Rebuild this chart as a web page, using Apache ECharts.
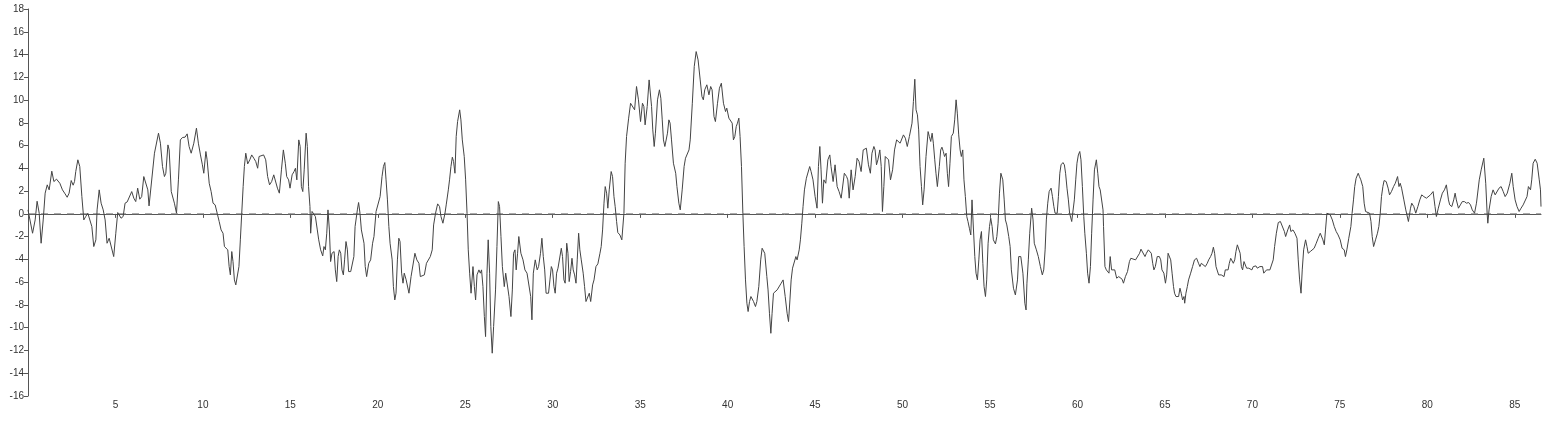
<!DOCTYPE html>
<html>
<head>
<meta charset="utf-8">
<script src="https://cdn.jsdelivr.net/npm/echarts@6/dist/echarts.min.js"></script>
<style>html,body{margin:0;padding:0;background:#fff}#c{width:1547px;height:423px}</style>
</head>
<body>
<div id="c"></div>
<script>
const xs = [0,0.10,0.26,0.41,0.52,0.64,0.75,0.87,0.98,1.10,1.21,1.36,1.48,1.63,1.82,1.97,2.12,2.24,2.35,2.47,2.58,2.66,2.73,2.85,2.96,3.08,3.19,3.30,3.42,3.53,3.65,3.76,3.88,3.95,4.07,4.18,4.30,4.41,4.52,4.64,4.75,4.90,5.02,5.13,5.21,5.32,5.44,5.55,5.67,5.78,5.93,6.05,6.16,6.27,6.39,6.50,6.62,6.73,6.85,6.92,
7.0,7.23,7.46,7.57,7.69,7.80,7.88,8.0,8.07,8.19,8.26,8.37,8.49,8.60,8.71,8.83,8.98,9.10,9.21,9.33,9.48,9.63,9.74,9.86,9.97,10.05,10.17,10.24,10.36,10.47,10.58,10.70,10.81,10.93,11.04,11.15,11.23,11.34,11.42,11.50,11.57,11.65,11.72,11.80,11.88,11.99,12.06,12.14,12.22,12.30,12.37,12.45,12.56,12.68,12.79,12.91,13.02,13.13,13.21,13.32,13.47,13.59,13.70,13.81,13.93,14.05,
14.26,14.37,14.49,14.60,14.71,14.79,14.90,14.98,15.10,15.21,15.29,15.37,15.48,15.56,15.63,15.71,15.79,15.90,15.97,16.04,16.12,16.16,16.24,16.35,16.43,16.54,16.62,16.73,16.85,16.92,17.0,17.08,17.15,17.23,17.30,17.38,17.50,17.57,17.65,17.73,17.80,17.88,17.95,18.03,18.10,18.18,18.26,18.33,18.45,18.55,18.63,18.70,18.83,18.90,18.98,19.06,19.13,19.21,19.28,19.36,19.48,19.59,19.70,19.78,19.90,20.01,20.13,20.24,20.32,20.40,20.47,20.55,20.63,20.70,20.82,20.89,20.97,21.04,21.12,21.20,21.27,
21.36,21.44,21.51,21.62,21.78,21.90,22.01,22.12,22.23,22.35,22.43,22.54,22.66,22.78,22.89,23.0,23.11,23.19,23.30,23.42,23.53,23.61,23.72,23.84,23.91,24.03,24.10,24.18,24.26,24.33,24.41,24.48,24.56,24.68,24.75,24.83,24.94,25.02,25.10,25.17,25.25,25.33,25.44,25.52,25.59,25.67,25.78,25.86,25.93,26.01,26.09,26.16,26.24,26.31,26.39,26.46,26.54,26.62,26.73,26.81,26.89,26.96,27.04,27.12,27.23,27.31,27.42,27.50,27.61,27.69,27.76,27.84,27.91,27.99,28.06,28.18,28.30,28.41,28.53,28.64,
28.74,28.81,28.89,29.0,29.11,29.19,29.30,29.38,29.46,29.54,29.62,29.69,29.76,29.84,29.92,29.99,30.07,30.14,30.22,30.30,30.37,30.49,30.56,30.64,30.71,30.80,30.87,30.94,31.02,31.10,31.17,31.25,31.33,31.40,31.48,31.55,31.63,31.74,31.82,31.90,32.01,32.09,32.17,32.28,32.36,32.47,32.58,32.70,32.77,32.85,32.93,33.0,33.08,33.15,33.23,33.34,33.42,33.50,33.57,33.65,33.72,33.84,33.95,34.07,34.14,34.22,34.34,34.45,34.56,34.68,34.79,34.90,35.02,35.13,35.21,35.28,35.40,35.51,
35.65,35.72,35.80,35.87,35.99,36.10,36.18,36.26,36.33,36.41,36.49,36.56,36.64,36.71,36.79,36.90,37.03,37.10,37.21,37.29,37.40,37.51,37.59,37.70,37.79,37.86,37.98,38.09,38.20,38.31,38.43,38.53,38.61,38.69,38.81,38.93,39.03,39.11,39.22,39.30,39.42,39.53,39.64,39.76,39.88,39.95,40.07,40.14,40.26,40.33,40.41,40.49,40.56,40.64,40.71,40.79,40.87,40.94,41.02,41.10,41.17,41.25,41.33,41.40,41.48,41.59,41.67,41.78,41.89,41.97,42.05,42.12,42.24,42.31,42.39,42.47,42.54,42.62,42.69,
42.83,42.90,43.06,43.17,43.29,43.40,43.48,43.56,43.63,43.71,43.78,43.90,43.97,44.09,44.16,44.24,44.31,44.39,44.50,44.58,44.69,44.77,44.88,45.0,45.11,45.19,45.27,45.34,45.42,45.50,45.61,45.73,45.84,45.91,46.03,46.14,46.26,46.37,46.49,46.56,46.67,46.80,46.87,46.95,47.06,47.17,47.29,47.40,47.51,47.63,47.75,47.86,47.93,48.05,48.16,48.25,48.36,48.43,48.51,48.59,48.70,48.78,48.85,48.93,49.01,49.12,49.20,49.31,49.43,49.54,49.66,49.76,
49.86,49.93,50.05,50.16,50.27,50.39,50.47,50.54,50.62,50.70,50.77,50.85,50.92,51.0,51.08,51.15,51.23,51.34,51.46,51.53,51.61,51.69,51.76,51.84,51.91,51.99,52.10,52.18,52.25,52.33,52.40,52.49,52.56,52.63,52.71,52.79,52.90,52.98,53.06,53.13,53.21,53.29,53.36,53.44,53.51,53.59,53.67,53.74,53.82,53.90,53.97,54.05,54.13,54.20,54.28,54.36,54.43,54.51,54.59,54.66,54.74,54.81,54.89,54.97,55.04,55.12,55.19,55.31,55.39,55.46,55.54,55.62,55.73,55.81,55.88,55.96,56.07,56.15,56.22,56.34,56.45,56.57,56.64,56.76,56.88,56.99,57.06,
57.11,57.19,57.27,57.38,57.46,57.53,57.65,57.76,57.88,57.99,58.07,58.15,58.22,58.30,58.38,58.49,58.57,58.65,58.72,58.84,58.91,58.99,59.06,59.17,59.25,59.32,59.40,59.48,59.55,59.67,59.74,59.82,59.90,59.97,60.05,60.13,60.20,60.28,60.36,60.42,60.51,60.58,60.66,60.74,60.81,60.89,60.97,61.08,61.16,61.23,61.30,61.38,61.46,61.49,61.57,61.65,61.72,61.80,61.87,61.95,62.03,62.13,62.24,62.36,62.43,62.55,62.63,62.74,62.86,62.97,63.05,63.16,63.32,63.43,63.55,63.63,63.74,63.86,63.94,64.05,
64.22,64.30,64.37,64.45,64.56,64.68,64.76,64.83,64.94,65.03,65.10,65.18,65.25,65.33,65.41,65.49,65.55,65.63,65.70,65.78,65.86,65.93,66.01,66.09,66.13,66.20,66.28,66.35,66.47,66.58,66.69,66.81,66.92,67.0,67.08,67.19,67.31,67.42,67.50,67.61,67.69,67.77,67.84,67.92,68.00,68.07,68.15,68.22,68.30,68.38,68.45,68.53,68.61,68.68,68.76,68.84,68.91,68.99,69.06,69.14,69.21,69.30,69.37,69.44,69.52,69.59,69.67,69.79,69.90,69.97,70.05,70.12,70.20,70.28,70.35,70.43,70.50,70.58,70.65,70.73,70.81,70.88,71.0,71.11,71.19,71.27,
71.37,71.48,71.60,71.71,71.83,71.90,72.02,72.13,72.20,72.32,72.43,72.55,72.62,72.70,72.78,72.85,72.93,73.04,73.12,73.19,73.31,73.42,73.53,73.65,73.76,73.88,73.95,74.03,74.11,74.18,74.26,74.34,74.45,74.57,74.68,74.79,74.90,75.02,75.13,75.25,75.32,75.40,75.51,75.63,75.70,75.78,75.85,75.93,76.05,76.12,76.20,76.31,76.39,76.47,76.58,76.70,76.78,76.85,76.93,77.04,77.15,77.23,77.31,77.38,77.46,77.53,77.65,77.76,77.84,77.95,78.07,78.17,78.30,78.38,78.45,78.53,
78.66,78.77,78.92,79.04,79.11,79.23,79.34,79.46,79.57,79.68,79.80,79.95,80.06,80.18,80.33,80.44,80.52,80.63,80.75,80.86,80.98,81.09,81.21,81.28,81.40,81.51,81.59,81.66,81.78,81.89,82.0,82.12,82.24,82.36,82.47,82.57,82.70,82.81,82.97,83.08,83.23,83.34,83.42,83.46,83.53,83.65,83.76,83.88,83.99,84.10,84.22,84.34,84.45,84.57,84.72,84.83,84.91,85.02,85.13,85.25,85.36,85.48,85.59,85.70,85.78,85.90,85.97,86.05,86.17,86.28,86.40,86.47,86.5];

const ys = [0.35,0.41,-1.70,-0.53,1.11,0.06,-2.58,-0.53,1.82,2.55,2.11,3.75,2.84,3.05,2.69,2.11,1.76,1.46,1.82,2.93,2.52,2.84,3.72,4.75,4.16,1.52,-0.53,-0.23,0.06,0,-1.11,-2.87,-2.28,0.35,2.11,0.94,0.35,-0.53,-2.58,-2.14,-2.28,-3.75,-1.70,0.12,0.21,-0.38,-0.23,0.94,1.05,1.0,1.96,1.38,1.08,2.26,1.29,1.52,3.28,3.43,2.11,0.70,
0.8,5.33,7.09,6.21,4.16,3.28,3.57,6.06,5.62,1.96,1.82,0.94,0.06,2.99,6.50,6.71,6.74,7.03,5.92,5.33,6.21,7.53,6.21,5.18,4.31,3.57,5.48,4.75,2.69,1.96,0.94,0.79,0.64,-0.67,-1.41,-1.70,-2.87,-3.02,-3.16,-4.63,-5.36,-3.31,-4.19,-5.80,-6.24,-6.09,-4.63,-2.28,0.06,2.40,4.16,5.33,4.39,4.75,5.18,4.89,4.60,4.01,5.04,5.18,5.18,4.75,3.28,2.55,2.84,3.43,
2.26,1.82,3.87,5.62,4.45,3.28,2.99,2.26,3.43,3.72,4.01,2.99,6.50,5.92,2.40,1.96,3.87,7.09,5.92,2.40,0.64,-1.70,0.21,0.06,-0.23,-1.41,-2.28,-3.16,-3.69,-2.87,-3.16,-1.70,0.35,-1.41,-4.19,-3.46,-3.31,-4.92,-5.95,-3.75,-3.16,-3.46,-4.92,-5.36,-4.04,-2.43,-3.16,-5.07,-5.07,-4.92,-3.75,-1.11,0.35,1.0,0.06,-1.41,-1.55,-2.58,-4.63,-5.51,-4.34,-4.04,-2.58,-1.99,0.21,0.35,1.52,3.28,4.16,4.51,2.99,1.23,-1.11,-2.58,-4.04,-6.39,-7.56,-6.97,-4.04,-2.14,-2.43,
-5.21,-6.09,-5.21,-5.80,-6.97,-5.51,-5.51,-3.46,-4.04,-4.34,-5.51,-5.36,-5.36,-4.34,-4.19,-3.75,-3.16,-0.97,0.06,0.88,0.64,-0.23,-0.82,0.06,0.79,2.11,2.99,4.16,4.98,4.60,3.57,6.80,8.11,9.14,8.26,6.50,5.04,2.99,0.06,-3.16,-5.21,-6.97,-4.63,-6.39,-7.56,-5.36,-4.92,-5.21,-4.92,-6.39,-9.02,-10.78,-5.21,-2.28,-5.21,-9.90,-12.24,-9.90,-6.68,-2.87,1.08,0.64,-1.99,-4.63,-6.39,-5.21,-5.36,-7.26,-9.02,-6.68,-3.46,-3.16,-4.92,-3.46,-1.99,-3.46,-4.04,-4.92,-5.21,-5.36,
-7.26,-9.31,-5.21,-4.04,-4.92,-4.63,-3.46,-2.14,-3.75,-4.92,-6.97,-7.12,-6.97,-5.80,-4.63,-4.92,-6.39,-6.97,-5.21,-4.77,-4.77,-3.02,-3.75,-5.80,-6.09,-2.58,-3.46,-5.95,-5.07,-3.90,-4.92,-5.36,-6.09,-4.04,-1.70,-3.16,-4.04,-5.21,-6.39,-7.70,-7.70,-6.97,-7.70,-6.24,-5.80,-4.63,-4.39,-3.46,-2.87,-1.41,0.94,2.40,1.82,0.50,2.11,3.72,3.28,1.52,0.64,-0.67,-1.64,-1.85,-2.28,0.06,4.45,6.80,8.41,9.72,9.87,9.14,11.19,10.02,8.11,9.72,9.43,7.82,9.43,11.77,
9.43,7.38,5.92,7.09,10.02,10.90,10.16,8.26,6.50,5.92,5.92,7.09,8.26,7.97,6.50,4.45,3.57,2.40,0.94,0.35,2.11,4.16,4.89,4.75,5.62,6.50,9.72,12.95,14.26,13.53,11.77,10.31,10.02,10.90,11.34,10.46,11.19,10.90,8.55,8.11,9.72,11.04,11.48,9.72,8.99,9.29,8.41,8.55,7.97,6.50,6.80,7.67,7.97,8.41,6.80,4.16,0.06,-2.87,-5.80,-7.85,-8.58,-7.70,-7.26,-7.12,-7.70,-8.14,-7.70,-6.39,-4.04,-3.02,-2.87,-3.46,-5.51,-6.68,-8.73,-10.49,-8.73,-6.97,-6.82,
-6.68,-6.53,-6.09,-5.80,-7.26,-8.73,-9.46,-7.56,-5.80,-4.77,-4.92,-3.75,-4.04,-3.16,-2.28,-0.82,0.64,2.11,3.13,2.99,4.16,3.72,2.99,1.52,0.50,4.16,5.92,3.87,0.94,2.99,2.69,4.75,5.18,4.16,2.84,4.31,2.40,1.96,1.38,1.52,3.57,3.28,2.99,1.38,3.87,2.11,3.28,4.89,4.60,3.72,5.62,5.62,5.77,4.31,3.57,5.33,5.92,5.62,4.31,4.75,5.62,4.16,0.21,2.40,5.04,5.18,4.75,2.99,3.87,5.62,6.50,6.36,
6.21,6.15,6.94,6.65,5.92,6.80,6.80,7.97,9.87,11.83,9.14,8.70,7.38,4.16,2.40,0.79,2.11,5.04,7.23,6.80,6.36,7.09,6.21,4.75,3.57,2.40,4.16,5.62,5.86,5.48,5.04,5.33,3.57,2.40,4.45,6.80,7.09,8.26,10.02,8.85,6.94,5.62,5.04,5.62,2.99,1.52,-0.23,-0.67,-1.26,-1.85,1.23,1.08,-3.75,-5.21,-5.80,-4.04,-2.28,-1.55,-4.34,-6.39,-7.26,-5.80,-2.58,-1.11,-0.38,-1.11,-2.28,-2.64,-1.99,-0.82,1.82,3.57,2.99,1.23,-0.53,-0.97,-1.99,-2.87,-4.92,-6.53,-7.12,-5.80,-3.75,-3.75,-5.21,-7.85,-8.44,
-6.09,-4.04,-1.70,0.50,-0.53,-2.58,-3.16,-3.75,-4.63,-5.36,-4.92,-3.16,-0.53,0.94,1.96,2.26,1.52,0.64,0.06,0.06,1.52,3.57,4.31,4.51,4.31,3.57,2.26,1.23,0.06,-0.67,-0.82,1.23,2.99,4.45,5.18,5.48,4.75,2.40,-0.23,-1.70,-3.46,-5.21,-6.09,-4.63,-1.70,1.23,3.87,4.75,3.57,2.40,2.11,1.96,0.35,-1.11,-4.63,-4.92,-4.77,-5.21,-3.75,-4.92,-4.77,-4.92,-5.65,-5.51,-5.51,-5.74,-6.09,-5.51,-5.07,-4.19,-3.90,-3.90,-4.04,-4.19,-3.46,-3.10,-3.16,-3.75,-3.46,-3.16,
-3.46,-4.34,-4.92,-4.63,-3.75,-3.75,-4.04,-4.92,-5.21,-6.09,-5.36,-3.46,-3.46,-4.04,-5.21,-6.39,-6.97,-7.26,-7.41,-7.26,-6.53,-6.97,-7.56,-7.26,-7.85,-6.97,-6.39,-5.80,-5.21,-4.63,-4.04,-3.90,-4.34,-4.63,-4.34,-4.48,-4.63,-4.34,-4.04,-3.75,-3.46,-2.93,-3.46,-4.63,-4.63,-5.36,-5.21,-5.36,-5.36,-5.51,-4.92,-4.77,-4.92,-4.34,-3.90,-4.04,-4.34,-4.04,-3.31,-2.72,-2.58,-3.46,-4.63,-4.92,-4.19,-4.34,-4.77,-4.77,-4.92,-4.92,-4.63,-4.77,-4.57,-4.77,-4.92,-4.63,-4.48,-4.63,-5.21,-5.36,-4.92,-4.77,-4.92,-4.77,-4.04,-2.87,
-1.70,-0.76,-0.67,-0.76,-1.55,-1.99,-1.41,-0.97,-1.55,-1.41,-1.70,-2.14,-4.04,-5.80,-6.97,-4.92,-3.16,-2.28,-2.87,-3.46,-3.31,-3.16,-3.02,-2.58,-2.14,-1.70,-1.55,-2.28,-2.72,-1.41,0.06,0.12,-0.09,-0.53,-1.11,-1.55,-1.85,-2.28,-3.02,-3.16,-3.75,-3.16,-2.14,-1.11,0.06,1.23,2.40,3.13,3.57,3.28,2.99,2.40,0.94,0.21,0.21,0.06,-0.67,-1.99,-2.87,-2.28,-1.70,-1.11,0.06,1.52,2.40,2.93,2.84,2.26,1.67,1.96,2.40,2.69,3.28,2.40,2.69,2.26,
1.23,0.35,-0.67,0.50,0.94,0.64,0.06,0.64,1.23,1.67,1.52,1.38,1.52,1.67,1.96,0.64,-0.23,0.50,1.23,1.82,2.11,2.55,1.23,0.79,0.64,1.23,1.82,1.23,0.50,0.79,1.08,1.08,0.94,1.0,0.79,0.35,0.06,0.94,2.99,3.87,4.89,2.69,0.06,-0.82,0.35,1.52,2.11,1.67,1.82,2.26,2.40,1.96,1.52,1.82,2.69,3.57,2.40,1.23,0.64,0.21,0.50,0.79,0.79,1.52,2.40,2.11,2.99,4.45,4.80,4.45,2.99,2.11,0.64];

const yMin = -16, yMax = 18, yStep = 2;
const xMin = 0, xMax = 86.5, xStep = 5;
const baselineValue = 0;

const chart = echarts.init(document.getElementById('c'), null, {renderer: 'canvas'});
const font = 'Liberation Sans, Arial, sans-serif';
chart.setOption({
  animation: false,
  backgroundColor: '#fff',
  grid: {left: 28, right: 6, top: 9, bottom: 27, containLabel: false},
  xAxis: {
    type: 'value', min: xMin, max: xMax, interval: xStep,
    axisLine: {lineStyle: {color: '#555', width: 1}},
    axisTick: {show: true, length: 4, lineStyle: {color: '#555'}},
    axisLabel: {color: '#333', fontSize: 10, fontFamily: font, margin: 4, showMaxLabel: false,
      formatter: v => (v === 0 || v % 5 !== 0) ? '' : String(v)},
    splitLine: {show: false}
  },
  yAxis: {
    type: 'value', min: yMin, max: yMax, interval: yStep,
    axisLine: {show: true, lineStyle: {color: '#555', width: 1}},
    axisTick: {show: true, length: 4, lineStyle: {color: '#555'}},
    axisLabel: {color: '#333', fontSize: 10, fontFamily: font, margin: 4},
    splitLine: {show: false}
  },
  series: [{
    type: 'line',
    data: [[xMin, baselineValue], [xMax, baselineValue]],
    showSymbol: false,
    symbol: 'none',
    silent: true,
    lineStyle: {color: '#777', width: 1, type: [7, 6]},
    z: 1
  }, {
    type: 'line',
    data: xs.map((x, i) => [x, ys[i]]),
    showSymbol: false,
    symbol: 'none',
    lineStyle: {color: '#444', width: 1},
    z: 2
  }]
});
</script>
</body>
</html>
